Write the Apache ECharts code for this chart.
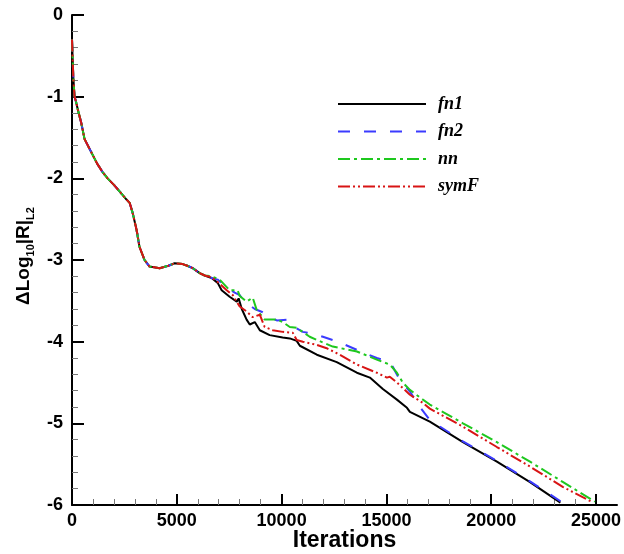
<!DOCTYPE html>
<html>
<head>
<meta charset="utf-8">
<script src="https://cdn.jsdelivr.net/npm/echarts@6/dist/echarts.min.js"></script>
<style>html,body{margin:0;padding:0;background:#fff;}#c{width:624px;height:554px;}</style>
</head>
<body>
<div id="c"></div>
<script>
// Shared early history (all four runs coincide)
var commonIter = [0, 60, 120, 180, 280, 440, 600, 900, 1200, 1450, 1700, 2000, 2300, 2600, 2750, 2890, 3080, 3220, 3460, 3700, 4180, 4600, 4900, 5280, 5500, 5760, 6090, 6330];
var commonVal  = [-0.3, -0.75, -1.0, -1.05, -1.16, -1.32, -1.52, -1.67, -1.82, -1.92, -2.0, -2.08, -2.17, -2.26, -2.30, -2.42, -2.63, -2.84, -3.0, -3.08, -3.10, -3.07, -3.04, -3.05, -3.07, -3.10, -3.16, -3.19];

var fn1Iter = [6660, 6950, 7140, 7520, 7860, 7950, 8100, 8330, 8480, 8720, 8960, 9430, 10050, 10390, 10720, 10870, 11680, 12630, 13590, 14210, 14830, 15500, 15980, 16120, 17070, 18650, 20270, 21850, 23300];
var fn1Val  = [-3.22, -3.28, -3.37, -3.45, -3.51, -3.47, -3.60, -3.73, -3.79, -3.76, -3.86, -3.92, -3.95, -3.96, -3.99, -4.05, -4.16, -4.25, -4.38, -4.44, -4.58, -4.71, -4.81, -4.86, -4.98, -5.23, -5.47, -5.72, -5.97];

var fn2Iter = [6660, 6950, 7300, 7760, 8000, 8240, 8500, 8720, 9100, 9430, 9770, 10250, 10390, 11010, 11500, 11970, 12780, 13590, 14540, 15160, 15310, 15640, 16120, 16600, 17070, 18650, 20270, 21850, 23400];
var fn2Val  = [-3.22, -3.24, -3.32, -3.40, -3.43, -3.51, -3.56, -3.60, -3.64, -3.70, -3.74, -3.73, -3.79, -3.88, -3.90, -3.94, -4.01, -4.10, -4.20, -4.25, -4.31, -4.47, -4.61, -4.80, -4.96, -5.22, -5.46, -5.71, -5.97];

var nnIter = [6660, 7040, 7520, 7900, 8000, 8330, 8620, 8810, 9190, 9770, 10050, 10390, 10720, 11340, 11970, 12440, 13590, 14540, 15160, 15500, 15780, 16120, 16740, 17070, 18650, 20270, 21850, 23430, 24950];
var nnVal  = [-3.20, -3.24, -3.37, -3.37, -3.44, -3.51, -3.46, -3.61, -3.73, -3.73, -3.76, -3.82, -3.83, -3.94, -4.01, -4.06, -4.12, -4.22, -4.28, -4.38, -4.50, -4.59, -4.71, -4.77, -5.00, -5.23, -5.47, -5.72, -5.96];

var symFIter = [6660, 7000, 7380, 7670, 8000, 8330, 8620, 8960, 9190, 9580, 10050, 10530, 10720, 11010, 11680, 12150, 12780, 13590, 14540, 15020, 15160, 15500, 16120, 16740, 17070, 18650, 20270, 21850, 23430, 24860];
var symFVal  = [-3.21, -3.28, -3.37, -3.43, -3.57, -3.63, -3.70, -3.67, -3.82, -3.86, -3.88, -3.89, -3.98, -4.00, -4.04, -4.08, -4.16, -4.28, -4.38, -4.44, -4.43, -4.50, -4.65, -4.75, -4.82, -5.04, -5.29, -5.53, -5.78, -5.97];

var seriesNames = ['fn1', 'fn2', 'nn', 'symF'];
var xMajorTicks = [0, 5000, 10000, 15000, 20000, 25000];
var xMinorTicks = [1000, 2000, 3000, 4000, 6000, 7000, 8000, 9000, 11000, 12000, 13000, 14000, 16000, 17000, 18000, 19000, 21000, 22000, 23000, 24000];

function build(it, va) {
  var its = commonIter.concat(it), vs = commonVal.concat(va), out = [];
  for (var i = 0; i < its.length; i++) out.push([its[i], vs[i]]);
  return out;
}

var chart = echarts.init(document.getElementById('c'), null, {renderer: 'canvas'});
var sans = 'Liberation Sans';
var serif = 'Liberation Serif';
var gridTop = 15, gridBottom = 49, H = 554;
var plotH = H - gridTop - gridBottom;

var styles = [
  {color: '#000000', type: 'solid'},
  {color: '#3b3bff', type: [12, 14]},
  {color: '#1ec81e', type: [12, 4, 3, 4]},
  {color: '#d81414', type: [12, 3, 2, 3, 2, 3]}
];
var dataSets = [build(fn1Iter, fn1Val), build(fn2Iter, fn2Val), build(nnIter, nnVal), build(symFIter, symFVal)];

var series = seriesNames.map(function (n, i) {
  return {
    name: n, type: 'line', data: dataSets[i], symbol: 'none', showSymbol: false,
    xAxisIndex: 0, yAxisIndex: 0, animation: false,
    lineStyle: {color: styles[i].color, width: 2, type: styles[i].type, cap: 'butt'},
    itemStyle: {color: styles[i].color}
  };
});

chart.setOption({
  animation: false,
  backgroundColor: '#fff',
  grid: {left: 72, right: 7, top: gridTop, bottom: gridBottom, containLabel: false, outerBoundsMode: 'none'},
  legend: {
    orient: 'vertical', left: 337, top: 95, padding: 0,
    itemWidth: 88, itemHeight: 14, itemGap: 9.5,
    data: seriesNames,
    itemStyle: {opacity: 0},
    textStyle: {fontFamily: serif, fontStyle: 'italic', fontWeight: 'bold', fontSize: 18, color: '#000', padding: [0, 0, 0, 7]}
  },
  xAxis: [{
    type: 'value', min: 0, max: 26000, interval: 5000, position: 'bottom',
    name: 'Iterations', nameLocation: 'middle', nameGap: 24, nameMoveOverlap: false,
    nameTextStyle: {fontFamily: sans, fontWeight: 'bold', fontSize: 23, color: '#000'},
    axisLine: {show: true, onZero: false, lineStyle: {color: '#000', width: 2}},
    axisTick: {show: true, inside: true, length: 11, lineStyle: {color: '#000', width: 2}, customValues: xMajorTicks},
    axisLabel: {show: true, margin: 7, fontFamily: sans, fontWeight: 'bold', fontSize: 18, color: '#000', customValues: xMajorTicks,
      formatter: function (v) { return String(v); }},
    splitLine: {show: false}
  }, {
    type: 'value', min: 0, max: 26000, interval: 1000, position: 'top', offset: -plotH,
    axisLine: {show: false},
    axisTick: {show: true, inside: false, length: 6, lineStyle: {color: '#777', width: 1}, customValues: xMinorTicks},
    axisLabel: {show: false},
    splitLine: {show: false}
  }],
  yAxis: [{
    type: 'value', min: -6, max: 0, interval: 1,
    axisLine: {show: true, onZero: false, lineStyle: {color: '#000', width: 2}},
    axisTick: {show: true, inside: true, length: 12, lineStyle: {color: '#000', width: 2}},
    minorTick: {show: true, splitNumber: 5, length: 6, lineStyle: {color: '#777', width: 1}},
    axisLabel: {margin: 9, fontFamily: sans, fontWeight: 'bold', fontSize: 18, color: '#000'},
    splitLine: {show: false},
    minorSplitLine: {show: false}
  }],
  graphic: [{
    type: 'text', x: 24, y: 256, rotation: Math.PI / 2,
    style: {
      text: '{a|ΔLog}{s|10}{a||R|}{s|L2}',
      align: 'center', verticalAlign: 'middle',
      fill: '#000',
      rich: {
        a: {fontFamily: sans, fontWeight: 'bold', fontSize: 19, lineHeight: 24, fill: '#000'},
        s: {fontFamily: sans, fontWeight: 'bold', fontSize: 11, verticalAlign: 'bottom', fill: '#000'}
      }
    }
  }],
  series: series
});
</script>
</body>
</html>
